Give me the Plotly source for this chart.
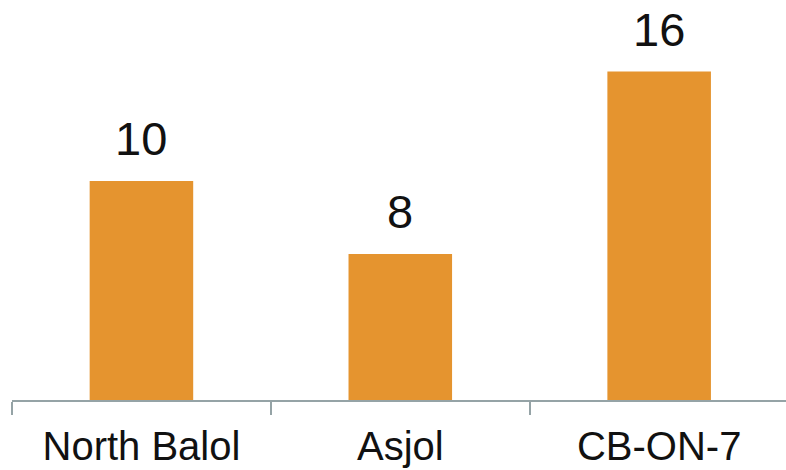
import plotly.graph_objects as go

categories = ["North Balol", "Asjol", "CB-ON-7"]
bar_values = [6, 4, 9]
value_labels = ["10", "8", "16"]

BAR_COLOR = "#E5942F"
AXIS_COLOR = "#95A3A6"

fig = go.Figure()
fig.add_trace(go.Bar(
    x=categories,
    y=bar_values,
    marker=dict(color=BAR_COLOR, line=dict(width=0)),
    hoverinfo="skip",
))

annotations = []
for c, v, t in zip(categories, bar_values, value_labels):
    annotations.append(dict(
        x=c, y=v, text=t, xref="x", yref="y",
        showarrow=False, yanchor="bottom", yshift=14,
        font=dict(family="Liberation Sans, Arial", size=47, color="#111111"),
    ))

fig.update_layout(
    width=786, height=470,
    margin=dict(l=12, r=0, t=0, b=70),
    paper_bgcolor="white", plot_bgcolor="white",
    bargap=0.6,
    showlegend=False,
    annotations=annotations,
    xaxis=dict(
        range=[-0.5, 2.49],
        showline=True, linecolor=AXIS_COLOR, linewidth=1.5,
        ticks="outside", tickson="boundaries", ticklen=13, tickwidth=1.5, tickcolor=AXIS_COLOR,
        ticklabelstandoff=10, automargin=False,
        tickfont=dict(family="Liberation Sans, Arial", size=40, color="#111111"),
        showgrid=False, zeroline=False,
    ),
    yaxis=dict(
        range=[0, 400 / 36.5],
        visible=False, showgrid=False, zeroline=False, automargin=False,
    ),
)

fig.write_html("out.html")
